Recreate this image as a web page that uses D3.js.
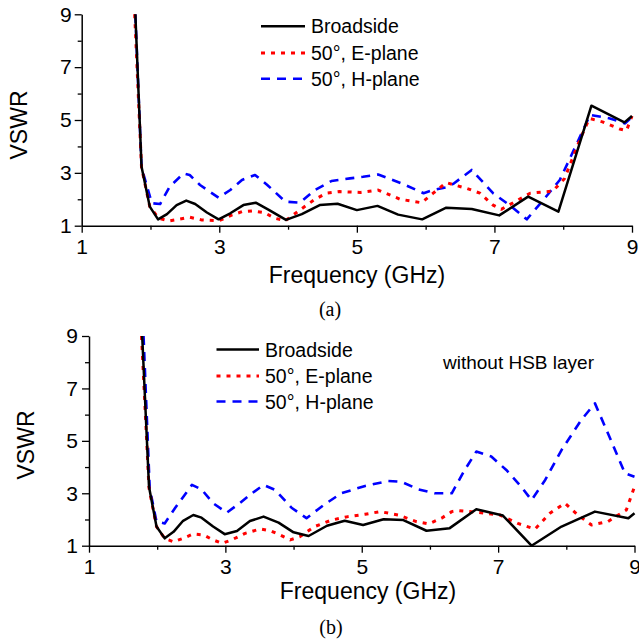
<!DOCTYPE html>
<html>
<head>
<meta charset="utf-8">
<script src="https://cdn.jsdelivr.net/npm/d3@7"></script>
<style>
  html, body { margin: 0; padding: 0; background: #fff; }
  svg { display: block; }
  text { font-family: "Liberation Sans", Arial, sans-serif; fill: #000; }
</style>
</head>
<body>
<script>
// ---------- data ----------
const xTicksMajor = [1, 3, 5, 7, 9];
const xTicksMinor = [2, 4, 6, 8];
const yTicksMajor = [1, 3, 5, 7, 9];
const yTicksMinor = [2, 4, 6, 8];
const seriesNames = ["Broadside", "50°, E-plane", "50°, H-plane"];

// Panel (a): [frequency GHz, VSWR]
const aBroadside = [[1.78,9],[1.87,3.23],[1.99,1.72],[2.11,1.24],[2.24,1.44],[2.38,1.78],[2.52,1.95],[2.65,1.82],[2.82,1.5],[2.99,1.24],[3.16,1.47],[3.35,1.78],[3.53,1.87],[3.72,1.6],[3.97,1.22],[4.2,1.44],[4.46,1.78],[4.72,1.83],[5.0,1.59],[5.3,1.75],[5.6,1.42],[5.95,1.24],[6.3,1.68],[6.67,1.63],[7.07,1.39],[7.49,2.1],[7.93,1.53],[8.41,5.54],[8.89,4.91],[9.0,5.15]];
const aEplane = [[1.77,9],[1.87,3.2],[1.99,1.72],[2.12,1.28],[2.27,1.18],[2.43,1.25],[2.57,1.32],[2.74,1.22],[3.0,1.19],[3.18,1.4],[3.33,1.53],[3.48,1.56],[3.65,1.5],[3.81,1.28],[3.96,1.19],[4.17,1.59],[4.39,2.0],[4.56,2.23],[4.75,2.29],[5.05,2.26],[5.31,2.35],[5.63,2.0],[5.94,1.87],[6.11,2.23],[6.3,2.63],[6.6,2.41],[6.79,2.23],[6.98,1.78],[7.1,1.62],[7.3,1.91],[7.52,2.23],[7.85,2.31],[8.02,2.79],[8.24,4.24],[8.38,5.06],[8.57,4.93],[8.82,4.66],[8.92,4.6],[9.0,5.15]];
const aHplane = [[1.78,9],[1.87,3.2],[2.02,1.85],[2.14,1.82],[2.28,2.48],[2.48,2.98],[2.57,2.92],[2.72,2.54],[2.99,2.06],[3.16,2.35],[3.33,2.73],[3.52,2.92],[3.69,2.56],[3.96,1.91],[4.17,1.87],[4.39,2.35],[4.63,2.69],[4.9,2.79],[5.09,2.85],[5.31,2.94],[5.67,2.58],[5.97,2.23],[6.11,2.35],[6.3,2.45],[6.4,2.58],[6.67,3.11],[6.98,2.23],[7.25,1.72],[7.47,1.24],[7.71,1.97],[7.95,2.73],[8.2,4.12],[8.39,5.19],[8.68,5.06],[8.9,4.87],[9.0,5.12]];

// Panel (b): without HSB layer
const bBroadside = [[1.78,9],[1.88,3.25],[1.99,1.73],[2.11,1.28],[2.24,1.53],[2.38,1.95],[2.53,2.17],[2.65,2.07],[2.82,1.73],[2.99,1.44],[3.17,1.56],[3.36,1.94],[3.56,2.11],[3.78,1.88],[4.0,1.51],[4.22,1.37],[4.49,1.76],[4.75,1.95],[5.02,1.79],[5.32,2.01],[5.61,1.98],[5.95,1.57],[6.29,1.67],[6.68,2.39],[7.07,2.15],[7.49,1.0],[7.93,1.73],[8.42,2.3],[8.91,2.05],[9.0,2.24]];
const bEplane = [[1.77,9],[1.88,3.2],[1.99,1.73],[2.11,1.28],[2.24,1.15],[2.38,1.28],[2.53,1.45],[2.68,1.41],[2.82,1.22],[2.95,1.09],[3.09,1.22],[3.29,1.47],[3.51,1.64],[3.66,1.57],[3.8,1.41],[3.95,1.22],[4.09,1.34],[4.31,1.73],[4.56,1.98],[4.8,2.11],[5.05,2.2],[5.27,2.3],[5.54,2.17],[5.8,1.92],[5.98,1.83],[6.17,2.05],[6.32,2.3],[6.41,2.34],[6.71,2.27],[7.03,2.17],[7.29,1.85],[7.54,1.63],[7.76,2.24],[7.98,2.62],[8.17,2.17],[8.37,1.79],[8.61,1.92],[8.88,2.36],[9.0,3.25]];
const bHplane = [[1.8,9],[1.89,3.2],[1.99,1.92],[2.11,1.85],[2.26,2.43],[2.51,3.32],[2.65,3.15],[2.82,2.62],[3.02,2.26],[3.21,2.62],[3.39,3.0],[3.56,3.32],[3.73,3.13],[3.97,2.45],[4.19,2.05],[4.44,2.55],[4.7,3.0],[5.05,3.28],[5.39,3.47],[5.58,3.44],[5.83,3.15],[6.07,3.0],[6.32,3.0],[6.51,3.89],[6.68,4.59],[6.9,4.4],[7.12,3.89],[7.34,3.25],[7.49,2.74],[7.69,3.51],[7.93,4.65],[8.22,5.8],[8.42,6.43],[8.61,5.29],[8.86,3.76],[9.0,3.63]];

// ---------- drawing ----------
const W = 639, H = 641;
const svg = d3.select("body").append("svg").attr("width", W).attr("height", H);

const styles = [
  { color: "#000000", width: 2.5, dash: null },
  { color: "#ff0000", width: 3, dash: "4,6" },
  { color: "#0000ff", width: 2.6, dash: "9,7" }
];

function panel(cfg) {
  const x = d3.scaleLinear().domain([1, 9]).range([cfg.x0, cfg.x1]);
  const y = d3.scaleLinear().domain([1, 9]).range([cfg.y0, cfg.y1]);
  const g = svg.append("g");

  // minor ticks
  g.append("g").attr("transform", `translate(0,${cfg.y0})`)
    .call(d3.axisBottom(x).tickValues(xTicksMinor).tickSize(4).tickFormat(""))
    .call(s => s.select(".domain").remove())
    .call(s => s.selectAll("line").attr("stroke-width", 1.3));
  g.append("g").attr("transform", `translate(${cfg.x0},0)`)
    .call(d3.axisLeft(y).tickValues(yTicksMinor).tickSize(4).tickFormat(""))
    .call(s => s.select(".domain").remove())
    .call(s => s.selectAll("line").attr("stroke-width", 1.3));

  // major axes
  const xa = g.append("g").attr("transform", `translate(0,${cfg.y0})`)
    .call(d3.axisBottom(x).tickValues(xTicksMajor).tickSize(7).tickSizeOuter(0).tickPadding(6).tickFormat(d3.format("d")));
  const ya = g.append("g").attr("transform", `translate(${cfg.x0},0)`)
    .call(d3.axisLeft(y).tickValues(yTicksMajor).tickSize(7).tickSizeOuter(0).tickPadding(cfg.yPad).tickFormat(d3.format("d")));
  [xa, ya].forEach(a => {
    a.select(".domain").attr("stroke-width", 1.5);
    a.selectAll("line").attr("stroke-width", 1.3);
    a.selectAll("text").style("font-size", "21px").style("font-family", '"Liberation Sans", Arial, sans-serif');
  });

  // series
  const line = d3.line().x(d => x(d[0])).y(d => y(d[1]));
  const data = cfg.series;
  // draw H-plane first, then E-plane, then broadside on top? keep order: blue, red, black
  [2, 1, 0].forEach(i => {
    const st = styles[i];
    g.append("path").datum(data[i])
      .attr("fill", "none")
      .attr("stroke", st.color)
      .attr("stroke-width", st.width)
      .attr("stroke-linejoin", "round")
      .attr("stroke-dasharray", st.dash)
      .attr("d", line);
  });

  // legend
  seriesNames.forEach((name, i) => {
    const st = styles[i];
    g.append("line")
      .attr("x1", cfg.legX0).attr("x2", cfg.legX1)
      .attr("y1", cfg.legY[i]).attr("y2", cfg.legY[i])
      .attr("stroke", st.color).attr("stroke-width", st.width)
      .attr("stroke-dasharray", st.dash);
    g.append("text")
      .attr("x", cfg.legTX).attr("y", cfg.legY[i] + 7)
      .style("font-size", "19.5px")
      .text(name);
  });

  // axis titles
  g.append("text")
    .attr("transform", `translate(${cfg.vswrX},${cfg.vswrY}) rotate(-90)`)
    .attr("text-anchor", "middle")
    .style("font-size", "23px")
    .text("VSWR");
  g.append("text")
    .attr("x", cfg.freqX).attr("y", cfg.freqY)
    .attr("text-anchor", "middle")
    .style("font-size", "23px")
    .text("Frequency (GHz)");
  g.append("text")
    .attr("x", cfg.capX).attr("y", cfg.capY)
    .attr("text-anchor", "middle")
    .style("font-size", "20px")
    .style("font-family", '"Liberation Serif", "Times New Roman", serif')
    .text(cfg.caption);
  return g;
}

panel({
  x0: 81.7, x1: 632, y0: 225.7, y1: 14.3, yPad: 3,
  series: [aBroadside, aEplane, aHplane],
  legX0: 261, legX1: 305, legTX: 311, legY: [26.3, 53, 78.7],
  vswrX: 27, vswrY: 125, freqX: 357, freqY: 283,
  capX: 330, capY: 316, caption: "(a)"
});

const gb = panel({
  x0: 89, x1: 634.5, y0: 545.7, y1: 336, yPad: 4,
  series: [bBroadside, bEplane, bHplane],
  legX0: 216.5, legX1: 259, legTX: 265, legY: [349.5, 376, 401.5],
  vswrX: 33.5, vswrY: 445, freqX: 368, freqY: 599,
  capX: 331, capY: 634, caption: "(b)"
});
gb.append("text").attr("x", 443).attr("y", 369)
  .style("font-size", "19px")
  .text("without HSB layer");
</script>
</body>
</html>
